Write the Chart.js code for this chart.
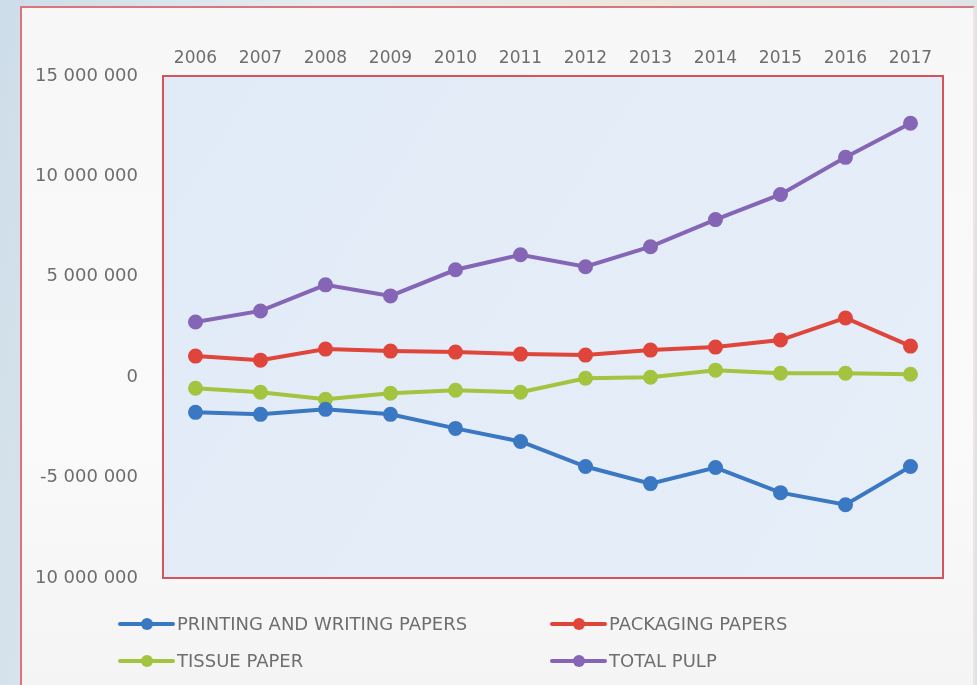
<!DOCTYPE html>
<html>
<head>
<meta charset="utf-8">
<script src="https://cdn.jsdelivr.net/npm/chart.js@4/dist/chart.umd.min.js"></script>
<style>
  html, body { margin: 0; padding: 0; }
  body {
    width: 977px; height: 685px; overflow: hidden; position: relative;
    background: linear-gradient(100deg, #cddde9 0%, #e6ecef 30%, #ece6dc 60%, #d9e3ea 100%);
    font-family: "DejaVu Sans", sans-serif;
  }
  #frame {
    position: absolute; left: 20px; top: 6px; width: 951px; height: 700px;
    border: 2px solid #d9767b; border-right-color: #efe3e3;
    background: linear-gradient(180deg, #f7f7f7 0%, #fafafa 60%, #f4f4f4 100%);
  }
  #c { position: absolute; left: 0; top: 0; }
  #legend { position: absolute; left: 0; top: 0; width: 951px; height: 677px; pointer-events: none; }
  .item { position: absolute; height: 20px; color: #6e6e6e; font-size: 18px; line-height: 20px; white-space: nowrap; }
  .sym { position: absolute; left: 0; top: 8px; width: 57px; height: 4px; border-radius: 2px; }
  .dot { position: absolute; top: 4px; left: 23px; width: 12px; height: 12px; border-radius: 6px; }
  .txt { position: absolute; left: 59px; top: 0; }
</style>
</head>
<body>
<div id="frame">
  <canvas id="c" width="951" height="677"></canvas>
  <div id="legend"></div>
</div>
<script>
const years = ['2006','2007','2008','2009','2010','2011','2012','2013','2014','2015','2016','2017'];
const printingWriting = [-1750000, -1850000, -1600000, -1850000, -2550000, -3200000, -4450000, -5300000, -4500000, -5750000, -6350000, -4450000];
const packaging = [1050000, 850000, 1400000, 1300000, 1250000, 1150000, 1100000, 1350000, 1500000, 1850000, 2950000, 1550000];
const tissue = [-550000, -750000, -1100000, -800000, -650000, -750000, -50000, 0, 350000, 200000, 200000, 150000];
const totalPulp = [2750000, 3300000, 4600000, 4050000, 5350000, 6100000, 5500000, 6500000, 7850000, 9100000, 10950000, 12650000];
const seriesNames = ['PRINTING AND WRITING PAPERS', 'PACKAGING PAPERS', 'TISSUE PAPER', 'TOTAL PULP'];
const seriesColors = ['#3b78c3', '#e0453b', '#a2c43f', '#8565b5'];
const yTickValues = [-10000000, -5000000, 0, 5000000, 10000000, 15000000];
const yTickLabels = ['10 000 000', '-5 000 000', '0', '5 000 000', '10 000 000', '15 000 000'];

const seriesData = [printingWriting, packaging, tissue, totalPulp];
const datasets = seriesData.map((d, i) => ({
  label: seriesNames[i],
  data: d,
  borderColor: seriesColors[i],
  backgroundColor: seriesColors[i],
  pointBackgroundColor: seriesColors[i],
  pointBorderColor: seriesColors[i],
  borderWidth: 4,
  pointRadius: 5.5,
  pointHoverRadius: 5.5,
  tension: 0,
  fill: false
}));

const plotBg = {
  id: 'plotBg',
  beforeDraw(chart) {
    const a = chart.chartArea, ctx = chart.ctx;
    ctx.save();
    const g = ctx.createLinearGradient(a.left, a.top, a.right, a.bottom);
    g.addColorStop(0, '#e1ebf7');
    g.addColorStop(1, '#e6eef8');
    ctx.fillStyle = g;
    ctx.fillRect(a.left, a.top, a.right - a.left, a.bottom - a.top);
    ctx.restore();
  },
  beforeDatasetsDraw(chart) {
    const a = chart.chartArea, ctx = chart.ctx;
    ctx.save();
    ctx.strokeStyle = '#d4545a';
    ctx.lineWidth = 2;
    ctx.strokeRect(a.left, a.top, a.right - a.left, a.bottom - a.top);
    ctx.restore();
  }
};

const chart = new Chart(document.getElementById('c'), {
  type: 'line',
  data: { labels: years, datasets: datasets },
  options: {
    responsive: false,
    animation: false,
    devicePixelRatio: 1,
    layout: { padding: { left: 0, right: 30, top: 0, bottom: 107 } },
    plugins: { legend: { display: false }, tooltip: { enabled: false } },
    scales: {
      x: {
        type: 'category',
        position: 'top',
        offset: true,
        grid: { display: false, drawTicks: false },
        border: { display: false },
        ticks: { color: '#6e6e6e', font: { family: 'DejaVu Sans', size: 17 }, padding: 7, maxRotation: 0, autoSkip: false },
        afterFit(s) { s.height = 68; }
      },
      y: {
        min: -10000000,
        max: 15000000,
        grid: { display: false, drawTicks: false },
        border: { display: false },
        afterBuildTicks(s) { s.ticks = yTickValues.map(v => ({ value: v })); },
        ticks: {
          color: '#6e6e6e',
          font: { family: 'DejaVu Sans', size: 18 },
          padding: 25,
          callback(value) {
            const i = yTickValues.indexOf(value);
            return i >= 0 ? yTickLabels[i] : '';
          }
        },
        afterFit(s) { s.width = 141; }
      }
    }
  },
  plugins: [plotBg]
});

// HTML legend built from datasets (2 x 2 grid)
const legendPos = [[96, 606], [528, 606], [96, 643], [528, 643]];
const legend = document.getElementById('legend');
chart.data.datasets.forEach((ds, i) => {
  const it = document.createElement('div');
  it.className = 'item';
  it.style.left = legendPos[i][0] + 'px';
  it.style.top = legendPos[i][1] + 'px';
  const sym = document.createElement('div'); sym.className = 'sym'; sym.style.background = ds.borderColor;
  const dot = document.createElement('div'); dot.className = 'dot'; dot.style.background = ds.borderColor;
  const txt = document.createElement('div'); txt.className = 'txt'; txt.textContent = ds.label;
  it.appendChild(sym); it.appendChild(dot); it.appendChild(txt);
  legend.appendChild(it);
});
</script>
</body>
</html>
